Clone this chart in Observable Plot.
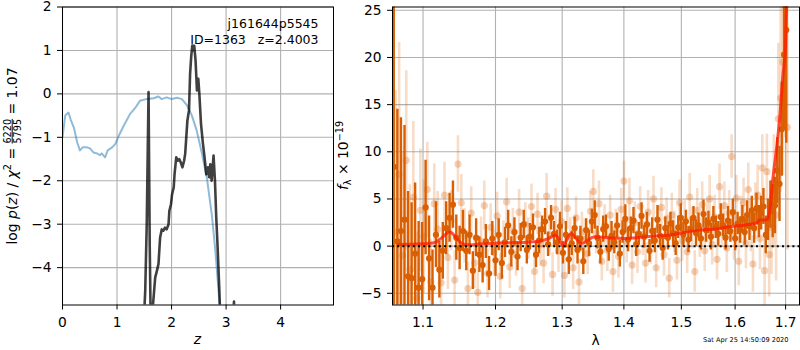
<!DOCTYPE html>
<html>
<head>
<meta charset="utf-8">
<script src="https://cdn.jsdelivr.net/npm/d3@7"></script>
<script src="https://cdn.jsdelivr.net/npm/@observablehq/plot@0.6"></script>
<style>
  html, body { margin: 0; padding: 0; background: white; }
  #chart { position: relative; width: 800px; height: 350px; background: white; }
  #chart svg { position: absolute; top: 0; }
  svg text { white-space: pre; }
</style>
</head>
<body>
<div id="chart"></div>
<script>
// ---------------- Left panel data: log p(z) and chi2 curve ----------------
const zTicks = [0, 1, 2, 3, 4];
const pTicks = [-4, -3, -2, -1, 0, 1, 2];
const zChi = [0, 0.05, 0.11, 0.15, 0.21, 0.27, 0.32, 0.37, 0.45, 0.51, 0.57, 0.63, 0.69, 0.72, 0.78, 0.83, 0.91, 0.97, 1.03, 1.12, 1.24, 1.33, 1.42, 1.54, 1.67, 1.76, 1.82, 1.91, 2.0, 2.1, 2.19, 2.28, 2.37, 2.46, 2.55, 2.65, 2.74, 2.8, 2.86, 2.9, 2.95];
const chiVal = [-1.0, -0.5, -0.43, -0.59, -0.78, -1.12, -1.3, -1.23, -1.23, -1.26, -1.35, -1.37, -1.41, -1.37, -1.46, -1.3, -1.23, -1.15, -0.97, -0.74, -0.46, -0.33, -0.16, -0.12, -0.1, -0.06, -0.12, -0.08, -0.12, -0.09, -0.12, -0.26, -0.49, -0.84, -1.33, -1.95, -2.8, -3.57, -4.5, -5.2, -6];
const zPz = [1.40, 1.50, 1.517, 1.545, 1.578, 1.60, 1.615, 1.625, 1.66, 1.70, 1.73, 1.76, 1.79, 1.82, 1.85, 1.88, 1.91, 1.945, 1.96, 1.99, 2.01, 2.04, 2.055, 2.086, 2.11, 2.14, 2.17, 2.2, 2.23, 2.25, 2.27, 2.29, 2.32, 2.34, 2.36, 2.38, 2.40, 2.416, 2.44, 2.466, 2.49, 2.51, 2.54, 2.576, 2.605, 2.637, 2.668, 2.69, 2.71, 2.735, 2.77, 2.796, 2.82, 2.845, 2.87, 2.89, 2.95, 3.10, 3.145, 3.19, 3.3];
const pzVal = [-8, -5.0, -4.54, -3.0, 0.04, -3.5, -5.0, -4.95, -4.85, -4.23, -4.08, -3.92, -3.31, -3.12, -3.15, -3.08, -3.12, -3.0, -2.69, -2.54, -2.31, -2.15, -1.85, -1.46, -1.54, -1.5, -1.58, -1.69, -1.54, -1.38, -1.0, -0.62, -0.38, 0.46, 0.85, 1.11, 1.0, 1.11, 0.77, 0.08, 0.35, 0.0, -0.69, -1.15, -1.46, -1.85, -1.69, -1.92, -1.62, -2.0, -1.42, -2.0, -2.85, -3.54, -4.31, -5.0, -6.5, -6.0, -4.78, -6.5, -8];
const annotLines = ["j161644p5545", "ID=1363   z=2.4003"];
const fracNum = "6220", fracDen = "5795", chi2Text = "1.07";

// ---------------- Right panel data: spectrum ----------------
const lamTicks = [1.1, 1.2, 1.3, 1.4, 1.5, 1.6, 1.7];
const fTicks = [-5, 0, 5, 10, 15, 20, 25];
const darkWave = [
1.0620, 1.0666, 1.0712, 1.0758, 1.0804, 1.0850, 1.0896, 1.0942, 1.0988, 1.1034,
1.1080, 1.1126, 1.1172, 1.1218, 1.1264, 1.1310, 1.1356, 1.1402, 1.1448, 1.1494,
1.1540, 1.1586, 1.1632, 1.1678, 1.1724, 1.1770, 1.1816, 1.1862, 1.1908, 1.1954,
1.2000, 1.2046, 1.2092, 1.2138, 1.2184, 1.2230, 1.2276, 1.2322, 1.2368, 1.2414,
1.2460, 1.2506, 1.2552, 1.2598, 1.2644, 1.2690, 1.2736, 1.2782, 1.2828, 1.2874,
1.2920, 1.2966, 1.3012, 1.3058, 1.3104, 1.3150, 1.3196, 1.3242, 1.3288, 1.3334,
1.3380, 1.3426, 1.3472, 1.3518, 1.3564, 1.3610, 1.3656, 1.3702, 1.3748, 1.3794,
1.3840, 1.3886, 1.3932, 1.3978, 1.4024, 1.4070, 1.4116, 1.4162, 1.4208, 1.4254,
1.4300, 1.4346, 1.4392, 1.4438, 1.4484, 1.4530, 1.4576, 1.4622, 1.4668, 1.4714,
1.4760, 1.4806, 1.4852, 1.4898, 1.4944, 1.4990, 1.5036, 1.5082, 1.5128, 1.5174,
1.5220, 1.5266, 1.5312, 1.5358, 1.5404, 1.5450, 1.5496, 1.5542, 1.5588, 1.5634,
1.5680, 1.5726, 1.5772, 1.5818, 1.5864, 1.5910, 1.5956, 1.6002, 1.6048, 1.6094,
1.6140, 1.6186, 1.6232, 1.6278, 1.6324, 1.6370, 1.6416, 1.6462, 1.6508, 1.6554,
1.6600, 1.6646, 1.6692, 1.6738, 1.6784, 1.6830, 1.6876, 1.6922, 1.6968, 1.7014];
const darkFlux = [
8.4, 0.5, 1.6, 2.8, -3.2, -3.4, -0.8, -4.4, -3.5, 4.1,
-1.3, -4.4, 1.2, -2.5, -0.5, 1.9, 3.0, 4.4, 0.9, -0.2,
1.6, -0.5, 1.2, -2.6, 0.9, -0.9, -2.0, 0.5, -2.9, 0.8,
-1.5, 1.2, -1.8, 0.4, 2.2, -0.6, 1.5, -1.1, 0.9, 2.3,
-0.4, 1.0, 2.0, -0.9, 0.6, 1.8, 2.6, 0.2, 3.0, 1.3,
0.4, 2.1, -0.7, 1.2, -1.4, 0.3, 1.9, -0.4, 0.8, -1.6,
1.7, 0.3, 2.6, 3.3, 0.9, -0.6, 1.8, 2.1, -0.3, 1.1,
0.4, 2.2, -0.8, 1.5, 2.9, 0.7, 1.9, 2.7, 0.2, 1.3,
3.2, 1.0, 2.3, -0.5, 1.6, 0.6, 2.8, 1.1, -0.2, 1.9,
0.9, 2.4, 1.3, 0.3, 2.0, 3.0, 1.2, 2.6, 0.7, 1.8,
3.0, 1.4, 2.2, 0.8, 3.4, 1.7, 2.5, 1.0, 2.9, 2.0,
1.3, 3.1, 2.2, 0.9, 2.7, 1.6, 3.6, 0.8, 2.4, 1.7,
2.9, 1.5, 3.3, 2.1, 3.8, 1.9, 4.0, 2.6, 3.5, 4.2,
1.2, 2.8, 4.4, 3.7, 4.3, 8.0, 6.6, 12.4, 20.3, 22.9];
const darkErr = [
40, 14, 12, 10, 9, 8, 7.5, 7, 6, 5,
4.5, 4, 3.5, 3, 3, 2.8, 2.6, 2.5, 2.4, 2.3,
2.2, 2.1, 2.1, 2.0, 2.0, 1.9, 1.9, 1.8, 1.8, 1.8,
1.7, 1.7, 1.7, 1.6, 1.6, 1.6, 1.5, 1.5, 1.5, 1.5,
1.5, 1.4, 1.4, 1.4, 1.4, 1.4, 1.4, 1.3, 1.3, 1.3,
1.3, 1.5, 1.2, 1.4, 1.6, 1.3, 1.2, 1.5, 1.3, 1.4,
1.2, 1.4, 1.3, 1.5, 1.2, 1.3, 1.4, 1.2, 1.3, 1.5,
1.2, 1.3, 1.4, 1.2, 1.5, 1.3, 1.2, 1.4, 1.3, 1.2,
1.4, 1.2, 1.3, 1.2, 1.4, 1.3, 1.5, 1.2, 1.3, 1.2,
1.3, 1.2, 1.4, 1.3, 1.2, 1.5, 1.3, 1.2, 1.4, 1.3,
1.2, 1.4, 1.3, 1.2, 1.5, 1.3, 1.2, 1.4, 1.3, 1.2,
1.3, 1.4, 1.2, 1.3, 1.5, 1.2, 1.4, 1.3, 1.2, 1.4,
1.4, 1.4, 1.5, 1.5, 1.5, 1.6, 1.6, 1.7, 1.8, 1.9,
2.0, 2.2, 2.5, 2.8, 3.0, 3.5, 4.0, 5.0, 8.0, 12.0];
const lightWave = [
1.0643, 1.0689, 1.0735, 1.0781, 1.0827, 1.0873, 1.0919, 1.0965, 1.1011, 1.1057,
1.1103, 1.1149, 1.1195, 1.1241, 1.1287, 1.1333, 1.1379, 1.1425, 1.1471, 1.1517,
1.1563, 1.1609, 1.1655, 1.1701, 1.1747, 1.1793, 1.1839, 1.1885, 1.1931, 1.1977,
1.2023, 1.2069, 1.2115, 1.2161, 1.2207, 1.2253, 1.2299, 1.2345, 1.2391, 1.2437,
1.2483, 1.2529, 1.2575, 1.2621, 1.2667, 1.2713, 1.2759, 1.2805, 1.2851, 1.2897,
1.2943, 1.2989, 1.3035, 1.3081, 1.3127, 1.3173, 1.3219, 1.3265, 1.3311, 1.3357,
1.3403, 1.3449, 1.3495, 1.3541, 1.3587, 1.3633, 1.3679, 1.3725, 1.3771, 1.3817,
1.3863, 1.3909, 1.3955, 1.4001, 1.4047, 1.4093, 1.4139, 1.4185, 1.4231, 1.4277,
1.4323, 1.4369, 1.4415, 1.4461, 1.4507, 1.4553, 1.4599, 1.4645, 1.4691, 1.4737,
1.4783, 1.4829, 1.4875, 1.4921, 1.4967, 1.5013, 1.5059, 1.5105, 1.5151, 1.5197,
1.5243, 1.5289, 1.5335, 1.5381, 1.5427, 1.5473, 1.5519, 1.5565, 1.5611, 1.5657,
1.5703, 1.5749, 1.5795, 1.5841, 1.5887, 1.5933, 1.5979, 1.6025, 1.6071, 1.6117,
1.6163, 1.6209, 1.6255, 1.6301, 1.6347, 1.6393, 1.6439, 1.6485, 1.6531, 1.6577,
1.6623, 1.6669, 1.6715, 1.6761, 1.6807, 1.6853, 1.6899, 1.6945, 1.6991, 1.7037];
const lightFlux = [
1.5, 7.6, -1.0, 9.1, -2.5, 5.2, -5.5, 3.8, 1.0, 6.0,
-3.8, 4.5, 1.8, -3.9, 5.4, -1.2, 2.7, -3.6, 8.7, 4.6,
1.1, -4.5, 3.5, -1.8, -4.9, 0.5, 4.3, -2.9, 2.0, -0.7,
3.2, -3.2, 0.3, 4.7, -2.2, 1.6, -0.9, 3.6, -4.5, 2.3,
0.8, 4.2, -2.7, 3.4, 0.2, -1.8, 5.3, 1.2, -3.0, 3.9,
-0.5, 2.6, -3.1, 4.0, 0.9, -2.3, 3.0, -3.8, 1.5, 0.7,
-0.8, 3.7, 5.8, 1.4, 4.5, -1.6, 2.2, -0.4, 3.3, -2.7,
1.8, -1.1, 3.9, 6.9, 0.4, 4.8, -2.0, 2.5, -0.6, 4.2,
1.2, -1.8, 3.6, 0.3, 5.0, -2.3, 2.0, 4.1, -0.9, 2.9,
-3.4, 3.3, 1.5, -1.5, 4.6, 0.6, 2.8, -0.6, 5.2, 1.9,
-2.7, 3.8, 0.9, 4.4, -0.5, 2.6, 5.0, 0.2, 3.1, -1.4,
6.3, 2.1, 4.3, -0.2, 3.5, 9.5, 1.0, 5.1, -1.6, 2.8,
4.6, 0.3, 6.0, 2.2, -1.9, 3.7, 5.4, 0.8, 8.3, -2.6,
7.9, -0.9, 2.0, 5.8, 3.3, 13.5, 15.7, 19.5, 25.5, 12.6];
const lightErr = [
15, 14, 11, 9.5, 9, 8, 7, 6.5, 6, 5,
4.5, 4.2, 4, 3.8, 3.5, 3.4, 3.2, 3.1, 3.0, 3.0,
2.9, 2.8, 2.8, 2.7, 2.7, 2.6, 2.6, 2.6, 2.5, 2.5,
2.5, 2.4, 2.4, 2.5, 2.3, 2.4, 2.3, 2.4, 2.3, 2.3,
2.2, 2.4, 2.3, 2.2, 2.3, 2.2, 2.4, 2.2, 2.3, 2.2,
2.3, 2.2, 2.4, 2.2, 2.1, 2.3, 2.2, 2.4, 2.1, 2.2,
2.2, 2.1, 2.3, 2.2, 2.4, 2.1, 2.2, 2.3, 2.1, 2.2,
2.1, 2.3, 2.2, 2.1, 2.2, 2.4, 2.1, 2.2, 2.3, 2.1,
2.2, 2.1, 2.3, 2.2, 2.4, 2.1, 2.2, 2.1, 2.3, 2.2,
2.1, 2.3, 2.2, 2.1, 2.4, 2.2, 2.1, 2.3, 2.5, 2.2,
2.2, 2.3, 2.1, 2.4, 2.2, 2.3, 2.5, 2.2, 2.3, 2.2,
2.4, 2.3, 2.5, 2.6, 2.4, 2.3, 2.5, 2.4, 2.6, 2.5,
2.6, 2.7, 2.8, 2.8, 3.0, 3.0, 3.2, 3.3, 3.5, 3.8,
4, 4.5, 5, 6, 7, 8, 10, 12, 14, 13];
const modelWave = [1.068, 1.08, 1.1, 1.115, 1.122, 1.128, 1.1355, 1.143, 1.149, 1.156, 1.165, 1.18, 1.2, 1.22, 1.246, 1.27, 1.28, 1.289, 1.295, 1.2985, 1.3016, 1.306, 1.3143, 1.321, 1.327, 1.3318, 1.34, 1.3503, 1.365, 1.38, 1.4, 1.42, 1.448, 1.4864, 1.50, 1.5286, 1.56, 1.597, 1.62, 1.6427, 1.649, 1.656, 1.6644, 1.6677, 1.6745, 1.681, 1.688, 1.6946, 1.6993, 1.702, 1.705];
const modelFlux = [0.18, 0.2, 0.25, 0.35, 0.7, 1.1, 1.52, 1.06, 0.5, 0.18, 0.15, 0.25, 0.32, 0.36, 0.42, 0.6, 0.85, 1.15, 0.75, 0.3, -0.03, 0.5, 1.35, 0.9, 0.4, 0.3, 0.6, 0.96, 0.95, 0.85, 0.8, 0.9, 1.06, 1.24, 1.4, 1.67, 1.8, 2.1, 2.25, 2.47, 2.8, 2.75, 2.9, 3.7, 7.3, 10.1, 13.6, 18.2, 20.7, 25.5, 30];
const stamp = "Sat Apr 25 14:50:09 2020";

// ---------------- tables ----------------
const chiData = zChi.map((z, i) => ({z, v: chiVal[i]}));
const pzData = zPz.map((z, i) => ({z, v: pzVal[i]}));
const dark = darkWave.map((w, i) => ({w, f: darkFlux[i], e: darkErr[i]}));
const light = lightWave.map((w, i) => ({w, f: lightFlux[i], e: lightErr[i]}));
const model = modelWave.map((w, i) => ({w, f: modelFlux[i]}));

const FONT = "DejaVu Sans";
const ORANGE = "#d95f02";
const GRID = "#b0b0b0";
const baseStyle = {background: "transparent", fontFamily: FONT, fontSize: "13.8px", color: "black", overflow: "visible"};

const container = document.getElementById("chart");

// ---------------- left plot ----------------
const leftPlot = Plot.plot({
  width: 340, height: 350,
  marginLeft: 62, marginRight: 7, marginTop: 6.5, marginBottom: 45.5,
  style: baseStyle,
  x: {domain: [0, 4.97]},
  y: {domain: [-4.86, 2.0]},
  marks: [
    Plot.gridX(zTicks, {stroke: GRID, strokeOpacity: 1, strokeWidth: 1.1}),
    Plot.gridY(pTicks, {stroke: GRID, strokeOpacity: 1, strokeWidth: 1.1}),
    Plot.line(chiData, {x: "z", y: "v", stroke: "#1f77b4", strokeOpacity: 0.5, strokeWidth: 2, clip: true}),
    Plot.line(pzData, {x: "z", y: "v", stroke: "black", strokeOpacity: 0.75, strokeWidth: 2.6, clip: true}),
    Plot.frame({stroke: "black", strokeWidth: 1}),
    Plot.axisX(zTicks, {tickSize: 5, tickPadding: 7, label: null, tickFormat: d3.format("d")}),
    Plot.axisY(pTicks, {tickSize: 5, tickPadding: 6, label: null})
  ]
});
leftPlot.style.left = "0px";
container.appendChild(leftPlot);

// ---------------- right plot ----------------
const rightPlot = Plot.plot({
  width: 465, height: 350,
  marginLeft: 57, marginRight: 1, marginTop: 6.5, marginBottom: 45.5,
  style: baseStyle,
  x: {type: "log", domain: [1.0604, 1.7286]},
  y: {domain: [-6.24, 25.35]},
  marks: [
    Plot.gridX(lamTicks, {stroke: GRID, strokeOpacity: 1, strokeWidth: 1.1}),
    Plot.gridY(fTicks, {stroke: GRID, strokeOpacity: 1, strokeWidth: 1.1}),
    Plot.ruleX(light, {x: "w", y1: d => d.f - d.e, y2: d => d.f + d.e, stroke: ORANGE, strokeOpacity: 0.22, strokeWidth: 2.6, clip: true}),
    Plot.dot(light, {x: "w", y: "f", r: 3.6, fill: ORANGE, fillOpacity: 0.28, stroke: "none", clip: true}),
    Plot.ruleX(dark, {x: "w", y1: d => d.f - d.e, y2: d => d.f + d.e, stroke: ORANGE, strokeWidth: 2.4, clip: true}),
    Plot.dot(dark, {x: "w", y: "f", r: 3.1, fill: ORANGE, stroke: "none", clip: true}),
    Plot.line(model, {x: "w", y: "f", stroke: "#ff1a00", strokeOpacity: 0.75, strokeWidth: 3, curve: "monotone-x", clip: true}),
    Plot.ruleY([0], {stroke: "black", strokeWidth: 2, strokeDasharray: "2,3.2"}),
    Plot.frame({stroke: "black", strokeWidth: 1}),
    Plot.axisX(lamTicks, {tickSize: 5, tickPadding: 7, label: null, tickFormat: d3.format(".1f")}),
    Plot.axisY(fTicks, {tickSize: 5, tickPadding: 6, label: null})
  ]
});
rightPlot.style.left = "335px";
container.appendChild(rightPlot);

// ---------------- labels (real text) ----------------
const L = d3.select(leftPlot);
// annotation, right-aligned in the top-right of the left panel
annotLines.forEach((s, i) => {
  L.append("text").attr("x", 318.5).attr("y", 28 + i * 15.5).attr("text-anchor", "end")
    .attr("font-family", FONT).attr("font-size", 12.5).attr("fill", "black").text(s);
});
// left x label
L.append("text")
  .attr("x", 197.5).attr("y", 344).attr("text-anchor", "middle")
  .attr("font-family", FONT).attr("font-size", 13.9).attr("font-style", "italic").text("z");

// left y label with stacked fraction (one text chunk, centred)
(function () {
  const fs = 13.9, fsS = 9.7;
  const numW = fracNum.length * 0.6362 * fsS; // DejaVu Sans digits share one advance width
  const t = L.append("text")
    .attr("transform", "translate(16.8,156) rotate(-90)")
    .attr("text-anchor", "middle").attr("font-family", FONT).attr("font-size", fs).attr("fill", "black");
  t.append("tspan").text("log ");
  t.append("tspan").attr("font-style", "italic").text("p");
  t.append("tspan").text("(");
  t.append("tspan").attr("font-style", "italic").text("z");
  t.append("tspan").text(") / ");
  t.append("tspan").attr("font-style", "italic").text("χ");
  t.append("tspan").attr("font-size", fsS).attr("dy", -5.5).text("2");
  t.append("tspan").attr("dy", 5.5).text(" = ");
  t.append("tspan").attr("font-size", fsS).attr("dy", -6.0).text(fracNum);
  t.append("tspan").attr("font-size", fsS).attr("dx", -numW).attr("dy", 9.9)
    .style("text-decoration", "overline").text(fracDen);
  t.append("tspan").attr("dy", -3.9).text(" = " + chi2Text);
})();

// right x label
d3.select(rightPlot).append("text")
  .attr("x", 595.5 - 335).attr("y", 345).attr("text-anchor", "middle")
  .attr("font-family", FONT).attr("font-size", 13.9).text("λ");

// right y label
(function () {
  const t = d3.select(rightPlot).append("text")
    .attr("transform", `translate(${348 - 335},155.5) rotate(-90)`)
    .attr("text-anchor", "middle").attr("font-family", FONT).attr("font-size", 13.9);
  t.append("tspan").attr("font-style", "italic").text("f");
  t.append("tspan").attr("font-size", 9.7).attr("dy", 3).text("λ");
  t.append("tspan").attr("dy", -3).text(" × 10");
  t.append("tspan").attr("font-size", 9.7).attr("dy", -5.5).text("−19");
})();

// timestamp
d3.select(rightPlot).append("text")
  .attr("x", 788.5 - 335).attr("y", 341.5).attr("text-anchor", "end")
  .attr("font-family", FONT).attr("font-size", 6.6).text(stamp);
</script>
</body>
</html>
